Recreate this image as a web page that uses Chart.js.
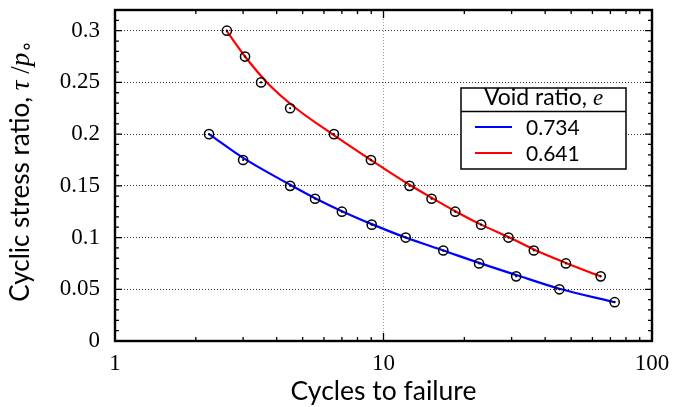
<!DOCTYPE html>
<html>
<head>
<meta charset="utf-8">
<script src="https://cdn.jsdelivr.net/npm/chart.js@4.4.1/dist/chart.umd.min.js"></script>
<style>
  html, body { margin: 0; padding: 0; background: #fff; }
  #wrap { width: 676px; height: 407px; }
</style>
</head>
<body>
<div id="wrap"><canvas id="chart" width="676" height="407"></canvas></div>
<script>
// measured points, e = 0.734
const cycles734 = [2.24, 3.0, 4.49, 5.56, 7.0, 9.04, 12.1, 16.7, 22.7, 31.2, 45.2, 72.6];
const ratio734 = [0.2, 0.175, 0.15, 0.1375, 0.125, 0.1125, 0.1, 0.0875, 0.075, 0.0625, 0.05, 0.0375];
// measured points, e = 0.641
const cycles641 = [2.61, 3.05, 3.5, 4.49, 6.54, 8.98, 12.5, 15.1, 18.5, 23.1, 29.2, 36.3, 47.8, 64.4];
const ratio641 = [0.3, 0.275, 0.25, 0.225, 0.2, 0.175, 0.15, 0.1375, 0.125, 0.1125, 0.1, 0.0875, 0.075, 0.0625];
// fitted curves
const fitCycles734 = [2.24, 3.0, 4.49, 5.56, 7.0, 9.04, 12.1, 16.7, 22.7, 31.2, 45.2, 72.6];
const fitRatio734 = [0.2, 0.177, 0.151, 0.138, 0.1255, 0.113, 0.1, 0.0875, 0.0755, 0.0638, 0.0505, 0.0375];
const fitCycles641 = [2.6, 3.05, 3.68, 4.72, 6.45, 8.98, 12.5, 15.1, 18.5, 23.1, 29.2, 36.3, 47.8, 64.4];
const fitRatio641 = [0.3, 0.275, 0.25, 0.225, 0.2, 0.175, 0.151, 0.1385, 0.1255, 0.1125, 0.1005, 0.0885, 0.0755, 0.0625];

const seriesLabels = ['0.734', '0.641'];
const seriesColors = ['#0000ff', '#ff0000'];

const xTicks = [1, 10, 100];
const xMinor = [2, 3, 4, 5, 6, 7, 8, 9, 20, 30, 40, 50, 60, 70, 80, 90];
const yTicks = [0, 0.05, 0.1, 0.15, 0.2, 0.25, 0.3];
const yMinor = [];
for (let i = 1; i < 32; i++) yMinor.push(i / 100);

const SANS = 'Lato, "DejaVu Sans", sans-serif';
const SERIF = '"Liberation Serif", serif';

const zip = (xs, ys) => xs.map((x, i) => ({ x, y: ys[i] }));

const frame = {
  id: 'frame',
  afterDatasetsDraw(chart) {
    const { ctx, chartArea: a, scales: { x, y } } = chart;
    ctx.save();
    ctx.strokeStyle = '#000';
    ctx.lineWidth = 1.3;
    ctx.beginPath();
    const tick = (px, len, vertical) => {
      if (vertical) {
        ctx.moveTo(px, a.bottom); ctx.lineTo(px, a.bottom - len);
        ctx.moveTo(px, a.top); ctx.lineTo(px, a.top + len);
      } else {
        ctx.moveTo(a.left, px); ctx.lineTo(a.left + len, px);
        ctx.moveTo(a.right, px); ctx.lineTo(a.right - len, px);
      }
    };
    xMinor.forEach(v => tick(x.getPixelForValue(v), 4, true));
    xTicks.forEach(v => tick(x.getPixelForValue(v), 8, true));
    yMinor.forEach(v => tick(y.getPixelForValue(v), 4, false));
    yTicks.forEach(v => tick(y.getPixelForValue(v), 7, false));
    ctx.stroke();
    ctx.lineWidth = 2.4;
    ctx.strokeRect(a.left, a.top, a.right - a.left, a.bottom - a.top);

    // legend box
    const L = 461, T = 88, R = 626, B = 169, H = 111.5;
    ctx.fillStyle = '#fff';
    ctx.fillRect(L, T, R - L, B - T);
    ctx.lineWidth = 1.5;
    ctx.strokeRect(L, T, R - L, B - T);
    ctx.beginPath(); ctx.moveTo(L, H); ctx.lineTo(R, H); ctx.stroke();
    ctx.fillStyle = '#000';
    ctx.textBaseline = 'alphabetic';
    const t1 = 'Void ratio, ';
    ctx.font = '23px ' + SANS;
    const w1 = ctx.measureText(t1).width;
    ctx.font = 'italic 23px ' + SERIF;
    const w2 = ctx.measureText('e').width;
    const sx = (L + R) / 2 - (w1 + w2) / 2;
    ctx.font = '23px ' + SANS;
    ctx.fillText(t1, sx, 105);
    ctx.font = 'italic 23px ' + SERIF;
    ctx.fillText('e', sx + w1, 105);
    ctx.font = '21px ' + SANS;
    seriesLabels.forEach((lab, i) => {
      const ly = 127 + i * 26;
      ctx.strokeStyle = seriesColors[i];
      ctx.lineWidth = 2;
      ctx.beginPath(); ctx.moveTo(475, ly); ctx.lineTo(512, ly); ctx.stroke();
      ctx.fillText(lab, 526, ly + 7.5);
    });

    // y axis title with math parts
    const parts = [
      ['Cyclic stress ratio, ', '26px ' + SANS, 0],
      ['τ', 'italic 27px ' + SERIF, 0],
      [' /', '27px ' + SERIF, 0],
      ['p', 'italic 27px ' + SERIF, 0],
      ['∘', '20px "DejaVu Sans", sans-serif', 4]
    ];
    let total = 0;
    parts.forEach(p => { ctx.font = p[1]; p.push(ctx.measureText(p[0]).width); total += p[3]; });
    ctx.translate(29, 171);
    ctx.rotate(-Math.PI / 2);
    let px = -total / 2;
    parts.forEach(p => {
      ctx.font = p[1];
      ctx.fillText(p[0], px, p[2]);
      px += p[3];
    });
    ctx.restore();
  }
};

const markerSet = (xs, ys) => ({
  data: zip(xs, ys), pointStyle: 'circle', pointRadius: 4.6, borderWidth: 1.5,
  borderColor: '#000', backgroundColor: 'rgba(0,0,0,0)', order: 0
});
const dotSet = (xs, ys) => ({
  data: zip(xs, ys), pointStyle: 'circle', pointRadius: 1.1, borderWidth: 0,
  backgroundColor: '#000', order: -1
});

new Chart(document.getElementById('chart'), {
  type: 'scatter',
  data: {
    datasets: [
      { label: seriesLabels[0], data: zip(fitCycles734, fitRatio734), showLine: true, borderColor: seriesColors[0],
        borderWidth: 2.2, pointRadius: 0, cubicInterpolationMode: 'monotone', order: 1 },
      { label: seriesLabels[1], data: zip(fitCycles641, fitRatio641), showLine: true, borderColor: seriesColors[1],
        borderWidth: 2.2, pointRadius: 0, cubicInterpolationMode: 'monotone', order: 1 },
      markerSet(cycles734, ratio734),
      markerSet(cycles641, ratio641),
      dotSet(cycles734, ratio734),
      dotSet(cycles641, ratio641)
    ]
  },
  options: {
    responsive: false,
    animation: false,
    layout: { padding: { top: 10, right: 24, left: 0, bottom: 0 } },
    plugins: { legend: { display: false }, tooltip: { enabled: false } },
    scales: {
      x: {
        type: 'logarithmic', min: 1, max: 100,
        afterBuildTicks: s => { s.ticks = xTicks.map(v => ({ value: v, major: true })); },
        afterFit: s => { s.height = 66; s.paddingLeft = 0; s.paddingRight = 0; },
        ticks: { color: '#000', font: { family: SERIF, size: 23 }, padding: 9, maxRotation: 0,
          callback: v => String(v) },
        grid: {
          drawTicks: false,
          color: c => (c.tick && c.tick.value === 10 ? '#9a9a9a' : 'rgba(0,0,0,0)'),
          lineWidth: 1
        },
        border: { display: false, dash: [1, 2] },
        title: { display: true, text: 'Cycles to failure', color: '#000', font: { family: SANS, size: 26.5 },
          padding: { top: 0, bottom: 0 } }
      },
      y: {
        min: 0, max: 0.32,
        afterBuildTicks: s => { s.ticks = yTicks.map(v => ({ value: v })); },
        afterFit: s => { s.width = 115; s.paddingTop = 0; s.paddingBottom = 0; },
        ticks: { color: '#000', font: { family: SERIF, size: 23 }, padding: 15,
          callback: v => String(+v.toFixed(2)) },
        grid: {
          drawTicks: false,
          color: c => (c.tick && c.tick.value > 0 ? '#333' : 'rgba(0,0,0,0)'),
          lineWidth: 1
        },
        border: { display: false, dash: [1, 2] }
      }
    }
  },
  plugins: [frame]
});
</script>
</body>
</html>
